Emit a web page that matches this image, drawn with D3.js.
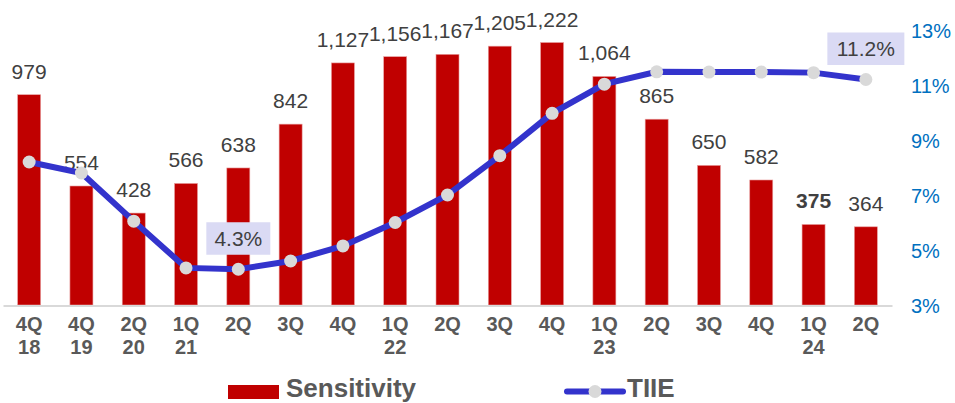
<!DOCTYPE html>
<html>
<head>
<meta charset="utf-8">
<script src="https://cdn.jsdelivr.net/npm/d3@7"></script>
<style>
  body { margin: 0; background: #fff; }
  svg { font-family: "Liberation Sans", Arial, sans-serif; }
</style>
</head>
<body>
<div id="chart"></div>
<script>
// data
const quarters = ["4Q", "4Q", "2Q", "1Q", "2Q", "3Q", "4Q", "1Q", "2Q", "3Q", "4Q", "1Q", "2Q", "3Q", "4Q", "1Q", "2Q"];
const years = ["18", "19", "20", "21", "", "", "", "22", "", "", "", "23", "", "", "", "24", ""];
const sensitivity = [979, 554, 428, 566, 638, 842, 1127, 1156, 1167, 1205, 1222, 1064, 865, 650, 582, 375, 364];
const tiie = [8.2, 7.8, 6.05, 4.35, 4.3, 4.6, 5.15, 6.0, 7.0, 8.43, 9.97, 11.03, 11.48, 11.47, 11.47, 11.45, 11.2];
const rateTicks = [3, 5, 7, 9, 11, 13];
const boldLabel = 15; // 1Q24 label is bold in the original
const callouts = [{ i: 4, text: "4.3%" }, { i: 16, text: "11.2%" }];

const width = 955;
const height = 403;
const baseY = 305;

const svg = d3.select("#chart").append("svg")
  .attr("width", width)
  .attr("height", height);

const keys = d3.range(sensitivity.length);

// scales
const x = d3.scaleBand()
  .domain(keys)
  .range([3, 892])
  .paddingInner(0.56)
  .paddingOuter(0.28);

const y = d3.scaleLinear().domain([0, 1400]).range([baseY, baseY - 0.2148 * 1400]);
const yRate = d3.scaleLinear().domain([3, 13]).range([baseY, 30]);

// bars
svg.append("g").selectAll("rect")
  .data(sensitivity)
  .join("rect")
  .attr("x", (d, i) => x(i))
  .attr("y", d => y(d))
  .attr("width", x.bandwidth())
  .attr("height", d => y(0) - y(d))
  .attr("fill", "#c00000")
  .attr("stroke", "#e8a0a0")
  .attr("stroke-width", 0.6);

// value labels
svg.append("g").selectAll("text")
  .data(sensitivity)
  .join("text")
  .attr("x", (d, i) => x(i) + x.bandwidth() / 2)
  .attr("y", d => y(d) - 16)
  .attr("text-anchor", "middle")
  .attr("font-size", "21px")
  .attr("font-weight", (d, i) => i === boldLabel ? "bold" : "normal")
  .attr("fill", "#404040")
  .text(d => d3.format(",")(d));

// x axis
const xAxis = d3.axisBottom(x).tickSize(0).tickFormat("");
const xAxisGroup = svg.append("g")
  .attr("transform", `translate(0, ${baseY + 0.5})`)
  .call(xAxis);
xAxisGroup.select(".domain").attr("stroke", "#d9d9d9").attr("stroke-width", 2);
xAxisGroup.selectAll(".tick text").remove();
xAxisGroup.selectAll(".tick").each(function (d) {
  const t = d3.select(this).append("text")
    .attr("text-anchor", "middle")
    .attr("font-size", "20px")
    .attr("font-weight", "bold")
    .attr("fill", "#595959");
  t.append("tspan").attr("x", 0).attr("y", 25).text(quarters[d]);
  if (years[d]) t.append("tspan").attr("x", 0).attr("y", 48.5).text(years[d]);
});

// right axis
const yAxis = d3.axisRight(yRate).tickValues(rateTicks).tickSize(0).tickFormat(d => d + "%");
const yAxisGroup = svg.append("g")
  .attr("transform", "translate(911, 0)")
  .call(yAxis);
yAxisGroup.select(".domain").remove();
yAxisGroup.selectAll(".tick text")
  .attr("x", 0)
  .attr("dy", "0.35em")
  .attr("font-size", "20px")
  .attr("font-family", "Liberation Sans, Arial, sans-serif")
  .attr("fill", "#0070c0");

// TIIE line
const line = d3.line()
  .x((d, i) => x(i) + x.bandwidth() / 2)
  .y(d => yRate(d));

svg.append("path")
  .datum(tiie)
  .attr("d", line)
  .attr("fill", "none")
  .attr("stroke", "#3333cc")
  .attr("stroke-width", 6);

svg.append("g").selectAll("circle")
  .data(tiie)
  .join("circle")
  .attr("cx", (d, i) => x(i) + x.bandwidth() / 2)
  .attr("cy", d => yRate(d))
  .attr("r", 6.5)
  .attr("fill", "#d9d9d9");

// callout boxes
const callG = svg.append("g").selectAll("g")
  .data(callouts)
  .join("g")
  .attr("transform", d => `translate(${x(d.i) + x.bandwidth() / 2}, ${yRate(tiie[d.i]) - 31})`);

callG.append("rect")
  .attr("x", d => d.text.length > 4 ? -38.5 : -32)
  .attr("y", -16)
  .attr("width", d => d.text.length > 4 ? 77 : 64)
  .attr("height", 32.5)
  .attr("fill", "#dadaf4");

callG.append("text")
  .attr("text-anchor", "middle")
  .attr("dy", "0.35em")
  .attr("font-size", "21px")
  .attr("fill", "#404040")
  .text(d => d.text);

// legend
const legend = svg.append("g");
legend.append("rect")
  .attr("x", 228).attr("y", 385)
  .attr("width", 51).attr("height", 14)
  .attr("fill", "#c00000");
legend.append("text")
  .attr("x", 286).attr("y", 397)
  .attr("font-size", "26px").attr("font-weight", "bold")
  .attr("fill", "#595959")
  .text("Sensitivity");
legend.append("line")
  .attr("x1", 567).attr("x2", 623)
  .attr("y1", 391.5).attr("y2", 391.5)
  .attr("stroke", "#3333cc").attr("stroke-width", 6)
  .attr("stroke-linecap", "round");
legend.append("circle")
  .attr("cx", 595).attr("cy", 391.5).attr("r", 6.5)
  .attr("fill", "#d9d9d9");
legend.append("text")
  .attr("x", 627).attr("y", 397)
  .attr("font-size", "26px").attr("font-weight", "bold")
  .attr("fill", "#595959")
  .text("TIIE");
</script>
</body>
</html>
